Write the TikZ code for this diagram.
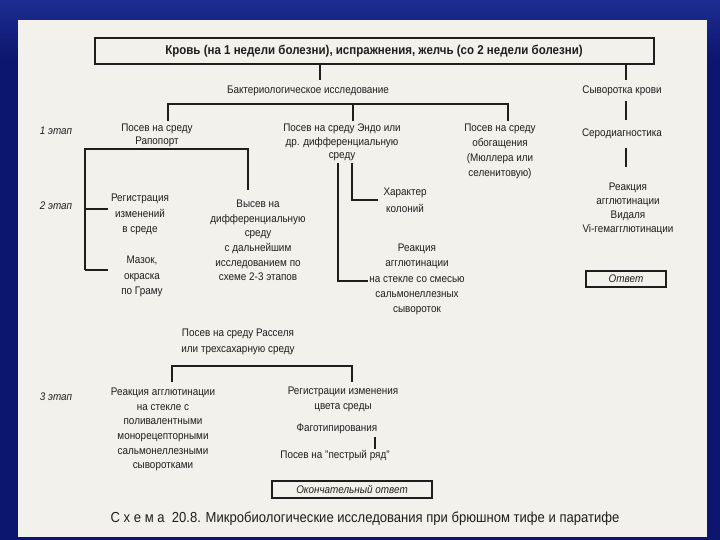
\documentclass[tikz,border=0pt]{standalone}
\usepackage{fontspec}
\setmainfont{Liberation Sans}[FakeStretch=0.9]
\definecolor{bgblue}{RGB}{12,22,110}
\definecolor{bglight}{RGB}{40,60,170}
\definecolor{paper}{RGB}{242,241,236}
\definecolor{ink}{RGB}{30,30,30}
\tikzset{
  txt/.style={align=center, text=ink, inner sep=0pt, font=\fontsize{11}{14.5}\selectfont},
  etap/.style={text=ink, inner sep=0pt, font=\fontsize{11}{12}\selectfont\itshape},
  ln/.style={draw=ink, line width=1.2pt},
  boxx/.style={draw=ink, line width=1.2pt, fill=paper, inner sep=0pt}
}
\begin{document}
\begin{tikzpicture}[x=1pt,y=-1pt]
\useasboundingbox (0,0) rectangle (720,540);
\fill[bgblue] (0,0) rectangle (720,540);
\shade[top color=bglight, bottom color=bgblue, opacity=0.6] (0,0) rectangle (720,60);
\fill[paper] (18,20) rectangle (707,537);
% top box
\draw[boxx] (95,38) rectangle (654,64);
\node[txt, font=\fontsize{12.8}{14}\selectfont\bfseries] (top) at (374,51) {Кровь (на 1 недели болезни), испражнения, желчь (со 2 недели болезни)};
\coordinate (topA) at (320,64);
\coordinate (topB) at (626,64);
% level: bacteriological
\node[txt] (bakt) at (308,91) {Бактериологическое исследование};
\draw[ln] (topA) -- (320,80);
\node[txt] (syv) at (622,91) {Сыворотка крови};
\draw[ln] (topB) -- (626,80);
\draw[ln] (626,101) -- (626,120);
\node[txt] (sero) at (622,134) {Серодиагностика};
\draw[ln] (626,148) -- (626,167);
\node[txt, font=\fontsize{11}{14}\selectfont] (vidal) at (628,209) {Реакция\\агглютинации\\Видаля\\Vi-гемагглютинации};
\node[boxx, minimum width=80pt, minimum height=16pt, font=\fontsize{11}{12}\selectfont\itshape, text=ink] (otvet) at (626,279) {Ответ};
% stage labels
\node[etap] (e1) at (56,131) {1 этап};
\node[etap] (e2) at (56,206) {2 этап};
\node[etap] (e3) at (56,397) {3 этап};
% comb under bakt
\draw[ln] (168,121) -- (168,104) -- (508,104) -- (508,121);
\draw[ln] (353,104) -- (353,121);
% stage 1 nodes
\node[txt, font=\fontsize{11}{13}\selectfont] (rap) at (157,135.5) {Посев на среду\\Рапопорт};
\node[txt, font=\fontsize{11}{13.5}\selectfont] (endo) at (342,142.5) {Посев на среду Эндо или\\др. дифференциальную\\среду};
\node[txt, font=\fontsize{11}{15}\selectfont] (obog) at (500,151.5) {Посев на среду\\обогащения\\(Мюллера или\\селенитовую)};
% left tree
\draw[ln] (85,270) -- (85,149) -- (248,149) -- (248,190);
\draw[ln] (85,209) -- (108,209);
\draw[ln] (85,270) -- (108,270);
\node[txt, font=\fontsize{11}{15.5}\selectfont] (reg) at (140,214.5) {Регистрация\\изменений\\в среде};
\node[txt, font=\fontsize{11}{15.5}\selectfont] (mazok) at (142,276.5) {Мазок,\\окраска\\по Граму};
\node[txt, font=\fontsize{11}{14.6}\selectfont] (vysev) at (258,240.5) {Высев на\\дифференциальную\\среду\\с дальнейшим\\исследованием по\\схеме 2-3 этапов};
% middle tree
\draw[ln] (338,163) -- (338,281) -- (368,281);
\draw[ln] (352,163) -- (352,200) -- (378,200);
\node[txt, font=\fontsize{11}{17}\selectfont] (har) at (405,200.5) {Характер\\колоний};
\node[txt, font=\fontsize{11}{15.2}\selectfont] (reakA) at (417,279.5) {Реакция\\агглютинации\\на стекле со смесью\\сальмонеллезных\\сывороток};
% stage 3
\node[txt, font=\fontsize{11}{16}\selectfont] (rass) at (238,342) {Посев на среду Расселя\\или трехсахарную среду};
\draw[ln] (172,382) -- (172,366) -- (352,366) -- (352,382);
\node[txt, font=\fontsize{11}{14.6}\selectfont] (reak3) at (163,429.5) {Реакция агглютинации\\на стекле с\\поливалентными\\монорецепторными\\сальмонеллезными\\сыворотками};
\node[txt, font=\fontsize{11}{15}\selectfont] (reg3) at (343,399.5) {Регистрации изменения\\цвета среды};
\node[txt] (fag) at (337,429) {Фаготипирования};
\draw[ln] (375,437) -- (375,449);
\node[txt] (pestr) at (335,456) {Посев на "пестрый ряд"};
\node[boxx, minimum width=160pt, minimum height=17pt, font=\fontsize{11}{12}\selectfont\itshape, text=ink] (final) at (352,489.5) {Окончательный ответ};
% caption
\node[txt, font=\fontsize{14.5}{16}\selectfont] (cap) at (365,519) {С х е м а\ \ 20.8. Микробиологические исследования при брюшном тифе и паратифе};
\end{tikzpicture}
\end{document}
